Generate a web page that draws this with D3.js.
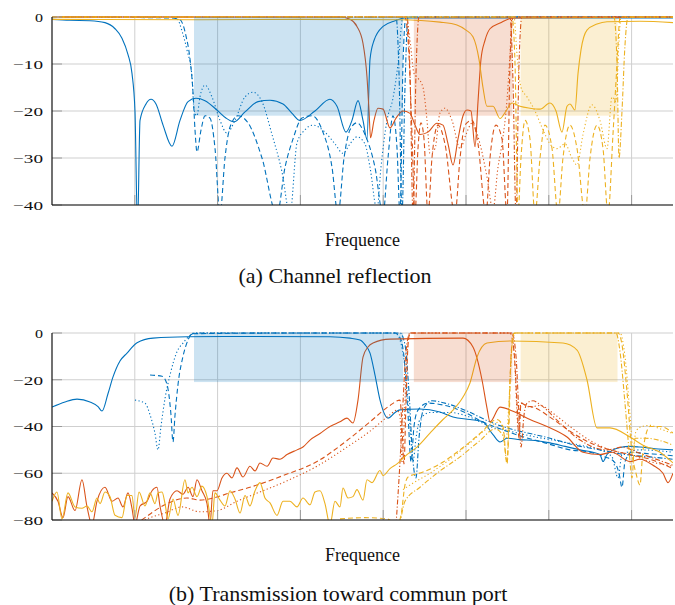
<!DOCTYPE html>
<html>
<head>
<meta charset="utf-8">
<style>
  body { margin: 0; background: #fff; }
  svg text { font-family: "Liberation Serif", "Times New Roman", serif; fill: #111; }
</style>
<script src="https://d3js.org/d3.v7.min.js"></script>
</head>
<body>
<svg id="chart" width="675" height="605"></svg>
<script>
// frequency axis (no labels), gridlines at integer values
var gridFreq = [1, 2, 3, 4, 5, 6, 7];
var ticksA = [0, -10, -20, -30, -40];
var ticksB = [0, -20, -40, -60, -80];

// pass bands of the three channels, shaded down to bandFloor dB
var bandEdges = [[1.715, 4.24], [4.37, 5.56], [5.66, 6.83]];
var bandFloor = -21;

// ---- (a) channel reflection, [freq, dB] ----
var reflBlueSolid = [[0,-0.5],[0.217,-0.7],[0.459,-0.8],[0.640,-1.2],[0.761,-2.5],[0.845,-4.5],[0.918,-8],[0.966,-12],[1.002,-20],[1.033,-45],[1.063,-22],[1.135,-18.5],[1.196,-17.5],[1.256,-18.5],[1.341,-23],[1.449,-27.5],[1.546,-22],[1.643,-18],[1.739,-17.3],[1.848,-17.8],[2.005,-20],[2.101,-21.5],[2.198,-22.3],[2.331,-20.2],[2.488,-18],[2.633,-17.7],[2.790,-18.5],[2.899,-20.5],[2.995,-22],[3.176,-20],[3.357,-17.5],[3.442,-19],[3.551,-24.5],[3.623,-22],[3.696,-17.8],[3.756,-22],[3.804,-26],[3.841,-9],[3.889,-5],[3.998,-2],[4.143,-0.8],[4.263,-0.2],[7.5,-0.2]];
var reflBlueDashed = [[0,0],[1.425,-0.2],[1.546,-0.6],[1.618,-4],[1.667,-9],[1.703,-16],[1.727,-24],[1.751,-28.7],[1.800,-24],[1.848,-21],[1.908,-21.5],[1.969,-28],[2.029,-42],[2.089,-30],[2.150,-23.4],[2.246,-21],[2.367,-22.5],[2.536,-30],[2.717,-42],[2.814,-32],[2.910,-26],[3.019,-21.5],[3.140,-21],[3.261,-24],[3.382,-32],[3.454,-42],[3.527,-30],[3.599,-24],[3.683,-22.5],[3.780,-25],[3.901,-32],[3.998,-42],[4.058,-30],[4.118,-21],[4.167,-28],[4.203,-42],[4.239,-10],[4.275,0],[7.5,0]];
var reflBlueDotted = [[0,0],[1.449,0],[1.510,-0.3],[1.570,-3],[1.630,-7],[1.691,-12.7],[1.715,-19.8],[1.751,-21],[1.787,-17],[1.848,-14.5],[1.932,-17],[2.029,-22],[2.113,-24.7],[2.210,-22],[2.331,-17],[2.427,-16],[2.536,-18],[2.657,-25],[2.778,-33],[2.874,-42],[2.959,-26.8],[3.055,-24],[3.152,-23],[3.297,-24.5],[3.418,-27],[3.514,-29],[3.599,-27],[3.683,-25.5],[3.780,-27],[3.841,-32],[3.925,-41],[3.973,-32],[4.046,-22],[4.118,-17.3],[4.179,-10],[4.239,0],[7.5,0]];
var reflBlueDashDot = [[0,0],[4.155,0],[4.191,-12],[4.227,-42],[4.263,-15],[4.300,0],[7.5,0]];

var reflOrangeSolid = [[0,0],[3.478,0],[3.599,-0.5],[3.683,-2],[3.756,-5.6],[3.804,-12.7],[3.829,-20],[3.847,-25.7],[3.889,-22],[3.937,-19.4],[3.998,-19.6],[4.082,-23.6],[4.155,-21.5],[4.239,-20],[4.324,-20.5],[4.384,-23],[4.444,-25],[4.541,-24.5],[4.649,-22.6],[4.722,-23],[4.783,-27],[4.843,-31.5],[4.903,-26],[4.964,-21],[5.012,-19.8],[5.060,-20],[5.109,-27.6],[5.145,-18],[5.181,-9],[5.229,-5],[5.290,-2.5],[5.411,-1.3],[5.568,-0.2],[7.5,0]];
var reflOrangeDashed = [[0,0],[4.263,0],[4.311,-8],[4.348,-25],[4.384,-42],[4.420,-28],[4.456,-22.5],[4.493,-26],[4.541,-42],[4.589,-30],[4.662,-23],[4.746,-27],[4.867,-42],[4.928,-30],[4.988,-23],[5.072,-22],[5.145,-27],[5.241,-42],[5.290,-30],[5.362,-23],[5.435,-26],[5.495,-42],[5.531,-10],[5.568,0],[7.5,0]];
var reflOrangeDotted = [[0,0],[4.275,0],[4.324,-5],[4.372,-12],[4.420,-13],[4.481,-15],[4.529,-22],[4.565,-29],[4.626,-28],[4.686,-20.4],[4.746,-19.4],[4.831,-22],[4.928,-28],[5.000,-25],[5.072,-22.6],[5.169,-27],[5.253,-34],[5.326,-41],[5.386,-32],[5.435,-27],[5.495,-17.7],[5.531,-8],[5.556,0],[7.5,0]];
var reflOrangeDashDot = [[0,0],[4.287,0],[4.324,-12],[4.360,-42],[4.396,-12],[4.432,0],[5.531,0],[5.568,-14],[5.604,-42],[5.640,-10],[5.676,0],[7.5,0]];

var reflYellowSolid = [[0,-0.5],[1.787,-0.6],[2.995,-0.5],[4.203,-0.6],[4.686,-1.1],[4.891,-1.7],[5.000,-2.8],[5.084,-4.2],[5.157,-9],[5.205,-15],[5.253,-19],[5.326,-19],[5.411,-21.6],[5.483,-20],[5.556,-18.3],[5.652,-19],[5.773,-19.4],[5.894,-19.6],[6.014,-18.3],[6.087,-20],[6.159,-24.5],[6.220,-19],[6.256,-18.5],[6.316,-19.8],[6.353,-12],[6.389,-7],[6.461,-2.8],[6.582,-1.5],[6.703,-1],[7.101,-0.9],[7.5,-1.2]];
var reflYellowDashed = [[0,0],[5.556,0],[5.592,-10],[5.628,-42],[5.664,-30],[5.713,-22],[5.773,-26],[5.833,-42],[5.894,-30],[5.954,-23],[6.039,-28],[6.111,-42],[6.171,-30],[6.256,-23],[6.341,-28],[6.437,-42],[6.498,-30],[6.582,-23],[6.655,-28],[6.715,-42],[6.775,-25],[6.824,-10],[6.860,0],[7.5,0]];
var reflYellowDotted = [[0,0],[5.580,0],[5.616,-8],[5.664,-15],[5.737,-17],[5.833,-20],[5.930,-24],[6.014,-27],[6.099,-28],[6.196,-27],[6.280,-30],[6.341,-31.5],[6.413,-25],[6.522,-18.7],[6.618,-22],[6.703,-28],[6.763,-17],[6.812,-18],[6.848,-5],[6.872,0],[7.5,0]];
var reflYellowDashDot = [[0,0],[6.787,0],[6.824,-10],[6.848,-30],[6.884,-20],[6.920,-6],[6.957,0],[7.5,0]];

// ---- (b) transmission toward common port, [freq, dB] ----
var transBlueSolid = [[0,-31.7],[0.157,-29.5],[0.302,-28.3],[0.459,-29.5],[0.556,-31.5],[0.604,-33.4],[0.676,-26],[0.737,-18.8],[0.821,-12],[0.906,-8.6],[1.027,-4.2],[1.220,-2.2],[1.630,-1.6],[2.391,-1.5],[3.357,-1.6],[3.599,-2.2],[3.720,-3],[3.780,-5],[3.841,-8.6],[3.901,-18],[3.961,-28.6],[4.058,-36.4],[4.143,-34],[4.203,-32.9],[4.444,-32.5],[4.686,-33.8],[4.843,-35.9],[5.048,-37],[5.205,-38],[5.326,-43.5],[5.411,-46.6],[5.495,-45],[5.652,-45.6],[5.833,-46],[6.014,-47],[6.196,-48.5],[6.377,-50],[6.534,-51],[6.618,-52],[6.655,-55],[6.703,-52],[6.775,-50],[6.860,-49],[6.981,-48.5],[7.101,-48.8],[7.283,-49.5],[7.5,-50]];
var transBlueDashed = [[1.184,-18],[1.329,-18.5],[1.389,-22],[1.437,-35],[1.461,-46.6],[1.486,-35],[1.522,-22],[1.582,-10],[1.643,-3],[1.691,-0.3],[2.995,0],[4.143,0],[4.203,-2],[4.251,-10],[4.300,-35],[4.336,-55],[4.372,-40],[4.420,-33],[4.541,-30],[4.746,-31],[4.988,-34],[5.169,-37.5],[5.411,-41],[5.652,-44],[5.954,-47],[6.256,-50],[6.498,-51],[6.679,-53],[6.787,-55],[6.848,-60],[6.884,-66],[6.920,-55],[7.005,-51],[7.162,-51.5],[7.343,-52],[7.5,-52.5]];
var transBlueDotted = [[1.002,-28.7],[1.123,-30],[1.184,-35],[1.244,-43],[1.280,-50],[1.316,-40],[1.365,-28],[1.425,-18],[1.510,-8],[1.582,-4.3],[1.667,-1],[1.715,0],[4.143,0],[4.203,-3],[4.263,-15],[4.324,-40],[4.360,-55],[4.396,-45],[4.444,-37],[4.565,-34],[4.807,-34],[5.048,-36],[5.290,-40],[5.531,-42],[5.773,-44],[6.075,-46],[6.377,-48],[6.618,-50],[6.763,-53],[6.836,-62],[6.884,-52],[7.101,-50],[7.5,-51]];
var transBlueDashDot = [[1.667,-1],[1.727,0],[4.203,0],[4.263,-5],[4.311,-25],[4.360,-55],[4.396,-62],[4.432,-45],[4.493,-32],[4.589,-29],[4.746,-30],[4.988,-33],[5.290,-38],[5.531,-41],[5.773,-43],[6.014,-45],[6.316,-48],[6.618,-50],[6.920,-52],[7.222,-53],[7.5,-54]];

var transOrangeSolid = [[0,-68.4],[0.072,-72],[0.133,-79],[0.193,-70],[0.278,-76],[0.362,-62.8],[0.423,-74.4],[0.483,-82],[0.543,-72],[0.640,-66],[0.725,-72],[0.797,-70.6],[0.857,-74.4],[0.918,-68.4],[0.966,-75],[1.002,-82],[1.063,-74],[1.147,-72],[1.208,-67.5],[1.268,-66],[1.304,-74],[1.365,-82],[1.425,-71],[1.510,-67.5],[1.582,-69],[1.643,-66],[1.703,-70],[1.751,-62.8],[1.811,-67.5],[1.872,-73],[1.908,-82],[1.944,-67.5],[1.993,-67.5],[2.053,-62],[2.113,-60],[2.174,-62],[2.234,-57.7],[2.307,-61.6],[2.391,-57],[2.452,-59],[2.512,-55.6],[2.597,-57],[2.669,-53.5],[2.754,-54],[2.838,-52],[2.959,-50],[3.031,-48.8],[3.116,-45.8],[3.237,-43],[3.357,-40],[3.478,-38],[3.563,-36.4],[3.635,-38.5],[3.696,-28.6],[3.756,-10.3],[3.816,-6],[3.877,-4.3],[4.082,-2.6],[4.964,-2.2],[5.084,-6],[5.193,-20],[5.253,-32],[5.290,-38],[5.411,-31.7],[5.568,-33.5],[5.773,-37],[5.978,-40],[6.220,-44.5],[6.413,-51],[6.618,-52],[6.763,-51],[6.981,-55],[7.101,-54],[7.258,-56.6],[7.379,-60],[7.440,-64],[7.5,-60]];
var transOrangeDashed = [[1.002,-82],[1.123,-79],[1.244,-76],[1.389,-73],[1.630,-70.6],[1.787,-71.5],[1.944,-70.6],[2.150,-68.4],[2.391,-66],[2.790,-61],[3.200,-55],[3.563,-46],[3.841,-38],[4.082,-31],[4.203,-28.7],[4.227,-40],[4.251,-56],[4.275,-30],[4.300,-5],[4.324,0],[5.531,0],[5.580,-8],[5.616,-30],[5.640,-45],[5.664,-30],[5.725,-31],[5.833,-32],[6.014,-36],[6.256,-42],[6.498,-47],[6.739,-50],[6.981,-52],[7.222,-54],[7.5,-58]];
var transOrangeDotted = [[1.002,-82],[1.184,-79],[1.365,-77],[1.570,-74.4],[1.787,-76.5],[1.993,-76],[2.234,-72],[2.512,-68],[2.790,-64],[3.200,-57],[3.563,-48.8],[3.841,-42],[4.082,-35],[4.167,-33],[4.203,-36],[4.227,-55],[4.251,-40],[4.287,-10],[4.324,0],[5.556,0],[5.592,-15],[5.628,-40],[5.664,-30],[5.773,-31.7],[5.894,-31],[6.075,-35],[6.256,-40],[6.498,-46],[6.739,-50],[6.981,-52],[7.222,-55],[7.5,-57]];
var transOrangeDashDot = [[4.155,-82],[4.203,-55],[4.239,-30],[4.275,-8],[4.324,0],[5.556,0],[5.604,-10],[5.640,-35],[5.664,-48.8],[5.701,-35],[5.737,-30],[5.809,-29],[5.894,-30.6],[6.135,-38.5],[6.377,-45.8],[6.703,-50],[6.896,-48.8],[7.065,-51],[7.258,-53.5],[7.5,-56.6]];

var transYellowSolid = [[0,-72],[0.060,-68],[0.121,-79.6],[0.193,-68.4],[0.278,-74.4],[0.362,-75],[0.423,-74],[0.483,-76.5],[0.543,-70.6],[0.580,-73],[0.640,-68],[0.700,-70],[0.761,-78],[0.845,-79],[0.906,-69.5],[0.966,-69.5],[1.002,-79],[1.051,-68],[1.123,-74],[1.184,-68.4],[1.244,-73],[1.280,-68.4],[1.329,-68],[1.365,-73],[1.401,-79.6],[1.461,-71],[1.522,-78],[1.606,-62.8],[1.643,-68.4],[1.691,-66],[1.751,-70],[1.811,-65.5],[1.872,-70],[1.932,-82],[1.968,-68.4],[2.029,-71.5],[2.089,-74],[2.150,-67.5],[2.210,-71],[2.271,-77],[2.331,-69.5],[2.391,-74],[2.452,-67.5],[2.512,-64],[2.572,-70.6],[2.633,-72.7],[2.717,-78],[2.790,-72],[2.874,-72],[2.959,-74.4],[3.031,-70.6],[3.116,-73.5],[3.176,-68],[3.237,-67.5],[3.297,-73],[3.357,-82],[3.418,-72],[3.478,-74.4],[3.514,-66.3],[3.575,-70.6],[3.635,-70],[3.683,-67],[3.756,-71.5],[3.804,-62.8],[3.865,-64],[3.961,-58.8],[3.998,-61],[4.082,-58],[4.167,-56],[4.287,-52],[4.408,-48.8],[4.565,-42.8],[4.722,-37],[4.843,-33],[4.964,-27.4],[5.048,-21.4],[5.133,-10.3],[5.253,-4.3],[5.531,-3.4],[6.171,-4.3],[6.341,-7.3],[6.461,-20],[6.582,-40.6],[6.739,-40.6],[6.981,-44.5],[7.138,-48],[7.343,-51],[7.5,-55.6]];
var transYellowDashed = [[3.478,-79.5],[3.780,-79],[4.046,-79.5],[4.167,-82],[4.215,-78],[4.263,-65],[4.300,-61.6],[4.481,-59.5],[4.686,-56],[4.964,-49],[5.169,-43],[5.374,-37],[5.447,-40],[5.495,-56],[5.519,-40],[5.543,-10],[5.580,0],[6.836,0],[6.884,-5],[6.944,-25],[7.005,-51.5],[7.053,-60],[7.101,-65],[7.138,-50],[7.222,-40],[7.343,-40],[7.5,-42.8]];
var transYellowDotted = [[4.239,-67],[4.324,-65],[4.565,-60],[4.807,-54],[5.048,-47],[5.290,-40],[5.411,-38],[5.483,-45],[5.519,-30],[5.556,-5],[5.592,0],[6.860,0],[6.920,-10],[6.981,-35],[7.017,-50],[7.053,-42],[7.125,-40],[7.222,-39.5],[7.343,-41],[7.5,-43]];
var transYellowDashDot = [[4.203,-82],[4.263,-72],[4.444,-66],[4.686,-59],[4.928,-53],[5.169,-46],[5.350,-41],[5.447,-44],[5.495,-55],[5.531,-20],[5.568,-2],[5.604,0],[6.812,0],[6.860,-8],[6.920,-30],[6.969,-50],[7.005,-62],[7.041,-45],[7.162,-45],[7.343,-46],[7.5,-48]];

var colors = {blue: "#0072BD", orange: "#D95319", yellow: "#EDB120"};
var dashes = {solid: null, dashed: "5,3", dotted: "1.2,2.4", dashdot: "5,2,1.2,2"};

var svg = d3.select("#chart");
var x = d3.scaleLinear().domain([0, 7.5]).range([52, 673]);

function minusFmt(d) { return d === 0 ? "0" : "\u2212" + Math.abs(d); }

function panel(opt) {
  var y = d3.scaleLinear().domain(opt.domain).range([opt.bottom, opt.top]);
  var g = svg.append("g");
  var clipId = "clip" + opt.name;

  g.append("clipPath").attr("id", clipId)
    .append("rect")
    .attr("x", x.range()[0]).attr("y", opt.top - 2)
    .attr("width", x.range()[1] - x.range()[0])
    .attr("height", opt.bottom - opt.top + 2);

  // grid
  g.append("g").selectAll("line").data(gridFreq).enter().append("line")
    .attr("x1", function(d) { return x(d); }).attr("x2", function(d) { return x(d); })
    .attr("y1", opt.top).attr("y2", opt.bottom)
    .attr("stroke", "#cfcfcf").attr("stroke-width", 1);
  g.append("g").selectAll("line").data(opt.ticks).enter().append("line")
    .attr("x1", x.range()[0]).attr("x2", x.range()[1])
    .attr("y1", function(d) { return y(d); }).attr("y2", function(d) { return y(d); })
    .attr("stroke", "#cfcfcf").attr("stroke-width", 1);

  // curves
  var line = d3.line()
    .x(function(d) { return x(d[0]); })
    .y(function(d) { return y(d[1]); })
    .curve(d3.curveMonotoneX);
  var curves = g.append("g").attr("clip-path", "url(#" + clipId + ")");
  opt.series.forEach(function(s) {
    curves.append("path")
      .attr("d", line(s.data))
      .attr("fill", "none")
      .attr("stroke", colors[s.color])
      .attr("stroke-width", 1.1)
      .attr("stroke-linejoin", "round")
      .attr("stroke-dasharray", dashes[s.dash]);
  });

  // shaded pass bands
  var bandColors = ["blue", "orange", "yellow"];
  g.append("g").selectAll("rect").data(bandEdges).enter().append("rect")
    .attr("x", function(d) { return x(d[0]); })
    .attr("width", function(d) { return x(d[1]) - x(d[0]); })
    .attr("y", y(0))
    .attr("height", y(bandFloor) - y(0))
    .attr("fill", function(d, i) { return colors[bandColors[i]]; })
    .attr("fill-opacity", 0.2);

  // axes
  var yAxis = g.append("g")
    .attr("transform", "translate(" + x.range()[0] + ",0)")
    .call(d3.axisLeft(y).tickValues(opt.ticks).tickSize(0).tickPadding(9).tickFormat(minusFmt));
  yAxis.select(".domain").remove();
  yAxis.selectAll("text")
    .attr("font-family", "Liberation Serif, serif")
    .attr("font-size", 13.5)
    .attr("fill", "#111")
    .attr("textLength", function(d) { return d === 0 ? 8 : 30; })
    .attr("lengthAdjust", "spacingAndGlyphs");

  g.append("g").selectAll("line").data(opt.ticks).enter().append("line")
    .attr("x1", x.range()[0]).attr("x2", x.range()[0] + 10)
    .attr("y1", function(d) { return y(d); }).attr("y2", function(d) { return y(d); })
    .attr("stroke", "#9a9a9a");
  g.append("g").selectAll("line").data(gridFreq).enter().append("line")
    .attr("x1", function(d) { return x(d); }).attr("x2", function(d) { return x(d); })
    .attr("y1", opt.bottom).attr("y2", opt.bottom - 10)
    .attr("stroke", "#9a9a9a");

  g.append("line")
    .attr("x1", x.range()[0]).attr("x2", x.range()[0])
    .attr("y1", opt.top).attr("y2", opt.bottom)
    .attr("stroke", "#111").attr("stroke-width", 1.2);
  g.append("line")
    .attr("x1", x.range()[0]).attr("x2", x.range()[1])
    .attr("y1", opt.bottom).attr("y2", opt.bottom)
    .attr("stroke", "#111").attr("stroke-width", 1.2);

  g.append("text")
    .attr("x", (x.range()[0] + x.range()[1]) / 2).attr("y", opt.bottom + 41)
    .attr("text-anchor", "middle").attr("font-size", 18)
    .text("Frequence");

  g.append("text")
    .attr("x", opt.captionX).attr("y", opt.captionY)
    .attr("text-anchor", "middle").attr("font-size", 22)
    .text(opt.caption);
}

panel({
  name: "A", domain: [-40, 0], top: 17, bottom: 205, ticks: ticksA,
  caption: "(a) Channel reflection", captionX: 335, captionY: 283,
  series: [
    {data: reflBlueDashed, color: "blue", dash: "dashed"},
    {data: reflBlueDotted, color: "blue", dash: "dotted"},
    {data: reflBlueDashDot, color: "blue", dash: "dashdot"},
    {data: reflBlueSolid, color: "blue", dash: "solid"},
    {data: reflOrangeDashed, color: "orange", dash: "dashed"},
    {data: reflOrangeDotted, color: "orange", dash: "dotted"},
    {data: reflOrangeDashDot, color: "orange", dash: "dashdot"},
    {data: reflOrangeSolid, color: "orange", dash: "solid"},
    {data: reflYellowDashed, color: "yellow", dash: "dashed"},
    {data: reflYellowDotted, color: "yellow", dash: "dotted"},
    {data: reflYellowDashDot, color: "yellow", dash: "dashdot"},
    {data: reflYellowSolid, color: "yellow", dash: "solid"}
  ]
});

panel({
  name: "B", domain: [-80, 0], top: 333, bottom: 520, ticks: ticksB,
  caption: "(b) Transmission toward commun port", captionX: 338, captionY: 601,
  series: [
    {data: transBlueDashed, color: "blue", dash: "dashed"},
    {data: transBlueDotted, color: "blue", dash: "dotted"},
    {data: transBlueDashDot, color: "blue", dash: "dashdot"},
    {data: transBlueSolid, color: "blue", dash: "solid"},
    {data: transOrangeDashed, color: "orange", dash: "dashed"},
    {data: transOrangeDotted, color: "orange", dash: "dotted"},
    {data: transOrangeDashDot, color: "orange", dash: "dashdot"},
    {data: transOrangeSolid, color: "orange", dash: "solid"},
    {data: transYellowDashed, color: "yellow", dash: "dashed"},
    {data: transYellowDotted, color: "yellow", dash: "dotted"},
    {data: transYellowDashDot, color: "yellow", dash: "dashdot"},
    {data: transYellowSolid, color: "yellow", dash: "solid"}
  ]
});
</script>
</body>
</html>
